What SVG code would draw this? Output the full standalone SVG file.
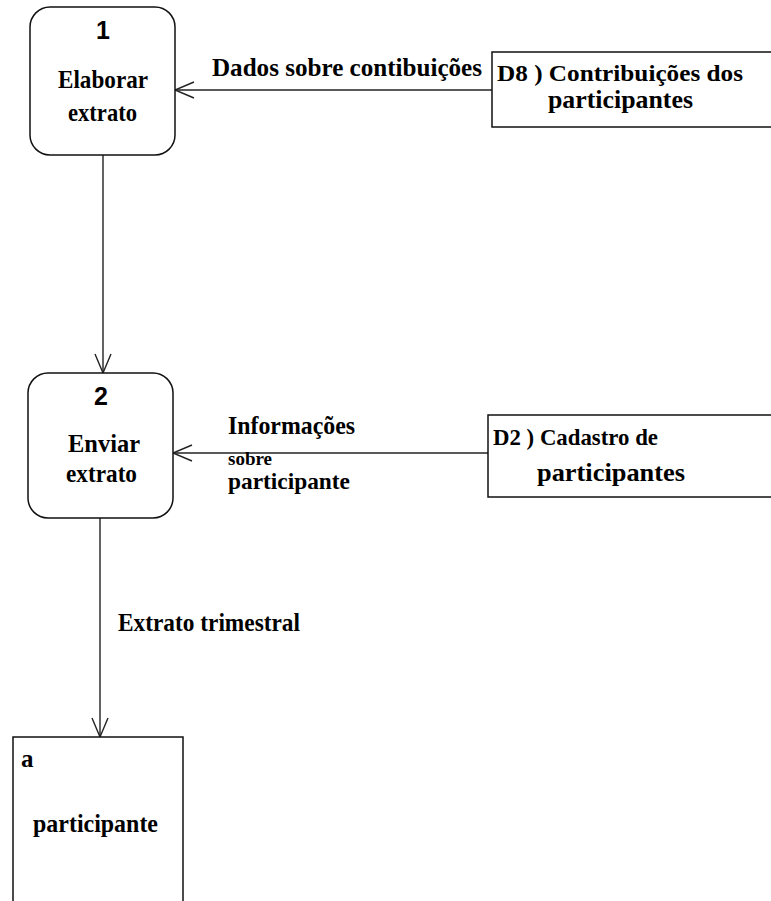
<svg xmlns="http://www.w3.org/2000/svg" width="771" height="901" viewBox="0 0 771 901">
  <style>
    .proc { fill: #ffffff; stroke: #111; stroke-width: 1.5; }
    .store { fill: #ffffff; stroke: #111; stroke-width: 1.5; }
    .flow { fill: none; stroke: #222; stroke-width: 1.4; }
    .txt { font-family: "Liberation Serif", "Times New Roman", serif; font-weight: bold; font-size: 25px; fill: #000; }
    .lbl { font-size: 24px; }
    .num { font-family: "Liberation Sans", Arial, sans-serif; font-weight: bold; font-size: 25px; fill: #000; text-anchor: middle; }
  </style>
  <defs>
    <marker id="open" markerWidth="22" markerHeight="18" refX="20" refY="9" orient="auto" markerUnits="userSpaceOnUse">
      <path d="M1,1 L20,9 L1,17" fill="none" stroke="#222" stroke-width="1.4"/>
    </marker>
  </defs>

  <rect width="771" height="901" fill="#ffffff"/>

  <!-- data flows and their labels -->
  <g id="connectors">
    <line class="flow" x1="492" y1="90" x2="175" y2="90" marker-end="url(#open)"/>
    <line class="flow" x1="103" y1="155" x2="103" y2="373" marker-end="url(#open)"/>
    <line class="flow" x1="488" y1="453" x2="173" y2="453" marker-end="url(#open)"/>
    <line class="flow" x1="100" y1="518" x2="100" y2="737" marker-end="url(#open)"/>
    <text class="txt" x="212" y="76" textLength="270" lengthAdjust="spacingAndGlyphs">Dados sobre contibuições</text>
    <text class="txt" x="228" y="434" textLength="127" lengthAdjust="spacingAndGlyphs">Informações</text>
    <text class="txt" x="228" y="465" style="font-size:19px" textLength="44" lengthAdjust="spacingAndGlyphs">sobre</text>
    <text class="txt" x="228" y="489" style="font-size:23px" textLength="122" lengthAdjust="spacingAndGlyphs">participante</text>
    <text class="txt" x="118" y="631" textLength="182" lengthAdjust="spacingAndGlyphs">Extrato trimestral</text>
  </g>

  <!-- process 1 -->
  <g id="p1">
    <rect class="proc" x="30" y="7" width="145" height="148" rx="20" ry="20"/>
    <text class="num" x="103" y="39">1</text>
    <text class="txt" x="58" y="88" textLength="90" lengthAdjust="spacingAndGlyphs">Elaborar</text>
    <text class="txt" x="68" y="121" textLength="69" lengthAdjust="spacingAndGlyphs">extrato</text>
  </g>

  <!-- process 2 -->
  <g id="p2">
    <rect class="proc" x="28" y="373" width="145" height="145" rx="20" ry="20"/>
    <text class="num" x="101" y="405">2</text>
    <text class="txt" x="68" y="452" textLength="72" lengthAdjust="spacingAndGlyphs">Enviar</text>
    <text class="txt" x="66" y="482" textLength="71" lengthAdjust="spacingAndGlyphs">extrato</text>
  </g>

  <!-- data store D8 -->
  <g id="d8">
    <rect class="store" x="492" y="52" width="300" height="75"/>
    <text class="txt lbl" x="497" y="81" textLength="246" lengthAdjust="spacingAndGlyphs">D8 ) Contribuições dos</text>
    <text class="txt" x="548" y="108" textLength="145" lengthAdjust="spacingAndGlyphs">participantes</text>
  </g>

  <!-- data store D2 -->
  <g id="d2">
    <rect class="store" x="488" y="415" width="300" height="82"/>
    <text class="txt lbl" x="493" y="445" textLength="165" lengthAdjust="spacingAndGlyphs">D2 ) Cadastro de</text>
    <text class="txt" x="537" y="481" textLength="148" lengthAdjust="spacingAndGlyphs">participantes</text>
  </g>

  <!-- external entity -->
  <g id="ext_a">
    <rect class="store" x="13" y="737" width="170" height="200"/>
    <text class="txt" x="21" y="767" font-size="17">a</text>
    <text class="txt" x="33" y="832" textLength="125" lengthAdjust="spacingAndGlyphs">participante</text>
  </g>
</svg>
